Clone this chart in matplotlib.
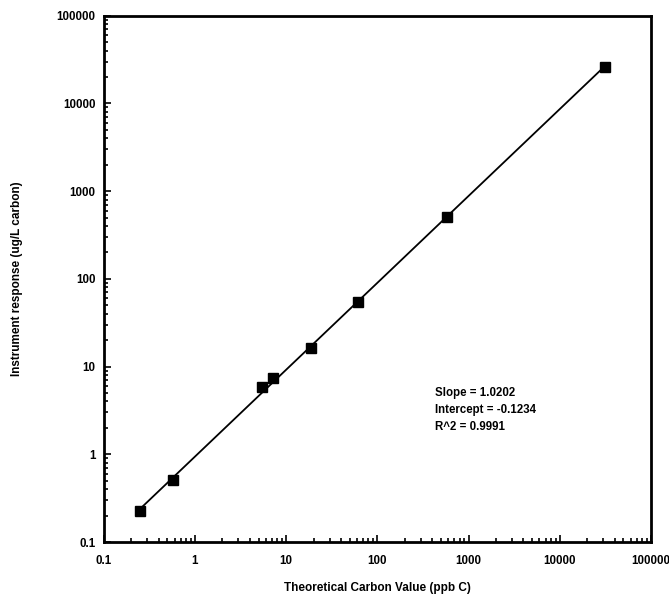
import numpy as np
import matplotlib
matplotlib.use("Agg")
import matplotlib.pyplot as plt
from matplotlib.ticker import LogLocator, FixedLocator, FixedFormatter, NullFormatter

# Data
carbon_theoretical = [0.25, 0.58, 5.5, 7.2, 18.9, 61.7, 577, 31000]
instrument_response = [0.225, 0.51, 5.8, 7.4, 16.5, 54, 505, 25900]
tick_values = [0.1, 1, 10, 100, 1000, 10000, 100000]
tick_labels = ["0.1", "1", "10", "100", "1000", "10000", "100000"]
stats_text = "Slope = 1.0202\nIntercept = -0.1234\nR^2 = 0.9991"

plt.rcParams['font.family'] = ['Liberation Sans', 'DejaVu Sans']

fig = plt.figure(figsize=(6.69, 5.96), dpi=100)
ax = fig.add_axes([0.155, 0.0906, 0.818, 0.883])

xs = np.array(carbon_theoretical)
ys = np.array(instrument_response)
coef = np.polyfit(np.log10(xs), np.log10(ys), 1)
xl = np.array([xs.min(), xs.max()])
yl = 10 ** np.polyval(coef, np.log10(xl))
ax.plot(xl, yl, color='black', lw=1.3, zorder=2)
ax.plot(xs, ys, linestyle='none', marker='s', ms=6.5, color='black', zorder=3)

ax.set_xscale('log')
ax.set_yscale('log')
ax.set_xlim(0.1, 100000)
ax.set_ylim(0.1, 100000)

for a in (ax.xaxis, ax.yaxis):
    a.set_major_locator(FixedLocator(tick_values))
    a.set_major_formatter(FixedFormatter(tick_labels))
    a.set_minor_locator(LogLocator(base=10, subs=np.arange(2, 10), numticks=20))
    a.set_minor_formatter(NullFormatter())

ax.tick_params(which='both', direction='in', top=False, right=False, width=1.2, color='black')
ax.tick_params(which='major', length=5, labelsize=8.3)
ax.tick_params(axis='x', which='major', pad=9)
ax.tick_params(axis='y', which='major', pad=6)
ax.tick_params(which='minor', length=3)
for lab in ax.get_xticklabels() + ax.get_yticklabels():
    lab.set_fontweight('bold')

for s in ax.spines.values():
    s.set_linewidth(2)
    s.set_color('black')

ax.set_xlabel("Theoretical Carbon Value (ppb C)", fontsize=8.5, fontweight='bold', labelpad=11)
ax.set_ylabel("Instrument response (ug/L carbon)", fontsize=8.5, fontweight='bold', labelpad=24)

ax.text(0.605, 0.295, stats_text, transform=ax.transAxes, fontsize=8.3, fontweight='bold',
        va='top', ha='left', linespacing=1.55)

fig.savefig("out.png", dpi=100)
